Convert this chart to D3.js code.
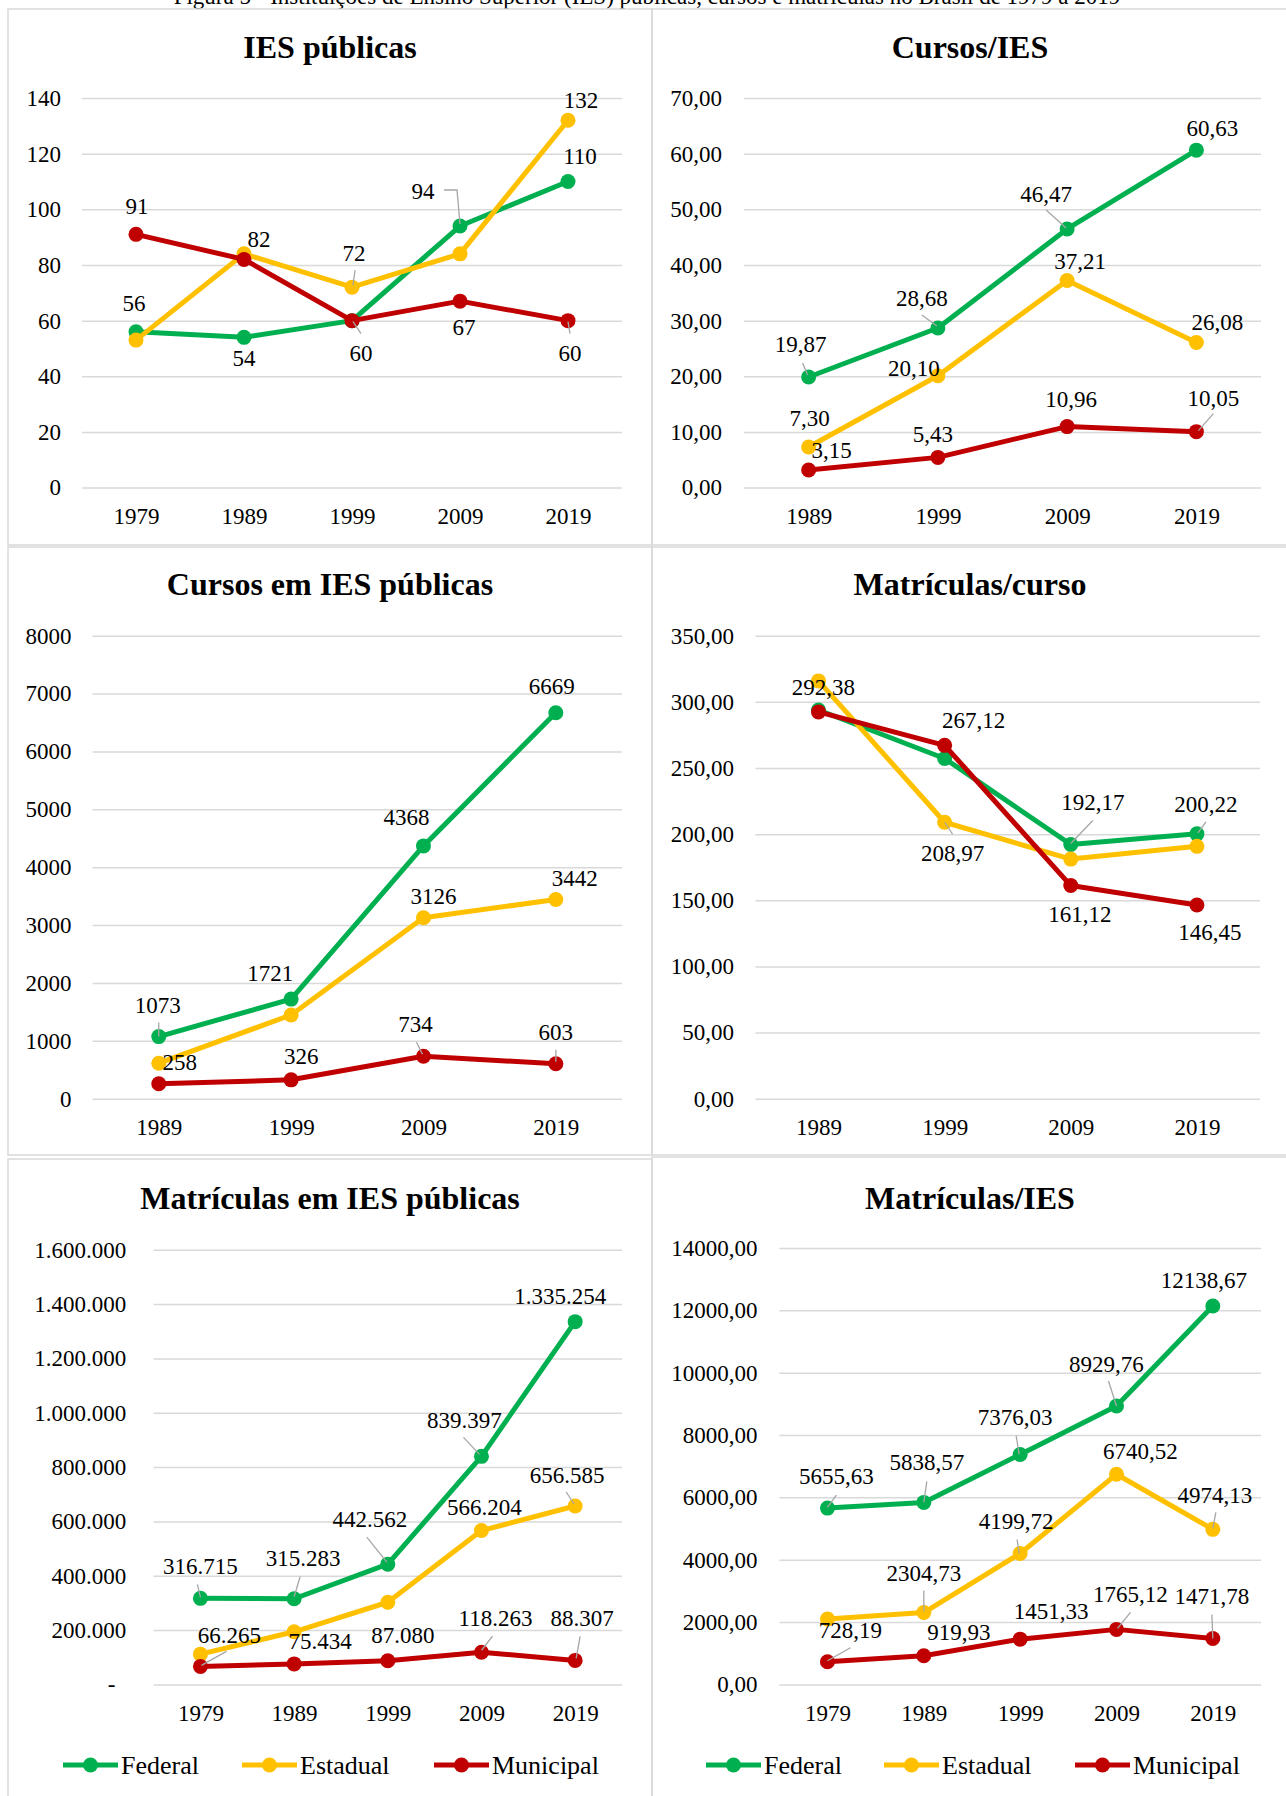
<!DOCTYPE html>
<html><head><meta charset="utf-8">
<script src="https://cdn.jsdelivr.net/npm/d3@7"></script>
<style>
html,body{margin:0;padding:0;background:#fff;}
svg{display:block;font-family:"Liberation Serif","Times New Roman",serif;}
</style></head>
<body>
<svg id="chart" width="1286" height="1796"></svg>
<script>
// ---------- DATA ----------
const seriesNames = ["Federal", "Estadual", "Municipal"];
const yearsA = ["1979", "1989", "1999", "2009", "2019"];
const yearsB = ["1989", "1999", "2009", "2019"];

const iesFederal   = [56, 54, 60, 94, 110];
const iesEstadual  = [53, 84, 72, 84, 132];
const iesMunicipal = [91, 82, 60, 67, 60];

const cursosIesFederal   = [19.87, 28.68, 46.47, 60.63];
const cursosIesEstadual  = [7.30, 20.10, 37.21, 26.08];
const cursosIesMunicipal = [3.15, 5.43, 10.96, 10.05];

const cursosFederal   = [1073, 1721, 4368, 6669];
const cursosEstadual  = [613, 1447, 3126, 3442];
const cursosMunicipal = [258, 326, 734, 603];

const matCursoFederal   = [293.83, 257.16, 192.17, 200.22];
const matCursoEstadual  = [315.82, 208.97, 181.13, 190.76];
const matCursoMunicipal = [292.38, 267.12, 161.12, 146.45];

const matFederal   = [316715, 315283, 442562, 839397, 1335254];
const matEstadual  = [111300, 193597, 302380, 566204, 656585];
const matMunicipal = [66265, 75434, 87080, 118263, 88307];

const matIesFederal   = [5655.63, 5838.57, 7376.03, 8929.76, 12138.67];
const matIesEstadual  = [2100, 2304.73, 4199.72, 6740.52, 4974.13];
const matIesMunicipal = [728.19, 919.93, 1451.33, 1765.12, 1471.78];

const yTicksIes = [0, 20, 40, 60, 80, 100, 120, 140];
const yTicksCursosIes = [0, 10, 20, 30, 40, 50, 60, 70];
const yTicksCursos = [0, 1000, 2000, 3000, 4000, 5000, 6000, 7000, 8000];
const yTicksMatCurso = [0, 50, 100, 150, 200, 250, 300, 350];
const yTicksMat = [0, 200000, 400000, 600000, 800000, 1000000, 1200000, 1400000, 1600000];
const yTicksMatIes = [0, 2000, 4000, 6000, 8000, 10000, 12000, 14000];

const caption = "Figura 5 - Instituições de Ensino Superior (IES) públicas, cursos e matrículas no Brasil de 1979 a 2019";

// ---------- STYLE / LAYOUT ----------
const colors = ["#00B050", "#FFC000", "#C00000"];
const gridColor = "#D9D9D9";
const leaderColor = "#A6A6A6";

const fmtInt = d => String(d);
const fmtComma2 = d => d3.format(".2f")(d).replace(".", ",");
const fmtDots = d => d3.format(",")(d).replace(/,/g, ".");
const fmtMatAxis = d => d === 0 ? "-" : fmtDots(d);

// label placement: [series, point, dx, dy, leader polyline (relative)]
const labelsP1 = [[2,0,1,-20],[0,0,-2,-21],[0,1,0,29],[2,1,15,-12],
  [1,2,2,-26,[3,-17,1,-2]],[2,2,9,40,[1,1,9,13]],
  [0,3,-37,-27,[-16,-36,-3,-36,0,-2]],[2,3,4,34],[1,4,13,-12],[0,4,12,-17],[2,4,2,40,[0,1,2,13]]];
const labelsP2 = [[0,0,-8,-25,[-6,-14,-1,-2]],[0,1,-16,-22,[-16,-13,-1,-2]],[0,2,-21,-27,[-21,-19,-1,-1]],[0,3,16,-14],
  [1,0,1,-21],[1,1,-24,0],[1,2,13,-11],[1,3,21,-12],
  [2,0,23,-12],[2,1,-5,-15],[2,2,4,-20],[2,3,17,-26,[17,-18,2,-1]]];
const labelsP3 = [[0,0,-1,-24,[0,-14,0,0]],[0,1,-21,-18],[0,2,-17,-21],[0,3,-4,-19],
  [1,2,10,-14],[1,3,19,-13],
  [2,0,21,-14],[2,1,10,-16],[2,2,-8,-24,[-7,-14,-1,-2]],[2,3,0,-24,[0,-14,0,-2]]];
const labelsP4 = [[2,0,5,-17],[2,1,29,-17],[1,1,8,39,[0,0,8,12]],[0,2,22,-34,[22,-24,0,-1]],
  [0,3,9,-22,[9,-12,1,-1]],[2,2,9,36],[2,3,13,35]];
const labelsP5 = [[0,0,0,-24,[-3,-14,0,-1]],[0,1,9,-33,[6,-22,0,-2]],[0,2,-18,-37,[-21,-27,-1,-2]],
  [0,3,-17,-28,[-18,-19,-2,-2]],[0,4,-15,-18],
  [1,3,3,-16],[1,4,-8,-23,[-9,-14,-1,-2]],
  [2,0,29,-23,[26,-15,1,-1]],[2,1,26,-15],[2,2,15,-18],[2,3,14,-26,[11,-16,0,-2]],[2,4,7,-34,[5,-24,1,-2]]];
const labelsP6 = [[0,0,9,-24,[9,-13,0,-1]],[0,1,3,-32,[3,-21,0,0]],[0,2,-5,-29,[-4,-19,-1,0]],
  [0,3,-10,-34,[-8,-25,0,0]],[0,4,-9,-18],
  [1,1,0,-32,[0,-22,0,-1]],[1,2,-4,-24,[-3,-14,-1,0]],[1,3,24,-15],[1,4,2,-26,[3,-17,0,-1]],
  [2,0,23,-24,[23,-14,0,-1]],[2,1,35,-16],[2,2,31,-20],[2,3,14,-27,[14,-17,1,-1]],[2,4,-1,-35,[-1,-24,0,0]]];

const panels = [
  {title:"IES públicas", tx:330, ty:58, cats:yearsA, data:[iesFederal,iesEstadual,iesMunicipal],
   ticks:yTicksIes, tfmt:fmtInt, lfmt:fmtInt, labels:labelsP1,
   x0:82, x1:622, yT:98, yB:487.6, tickX:61, xLabY:524},
  {title:"Cursos/IES", tx:970, ty:58, cats:yearsB, data:[cursosIesFederal,cursosIesEstadual,cursosIesMunicipal],
   ticks:yTicksCursosIes, tfmt:fmtComma2, lfmt:fmtComma2, labels:labelsP2,
   x0:744, x1:1261, yT:98, yB:487.6, tickX:722, xLabY:524},
  {title:"Cursos em IES públicas", tx:330, ty:595, cats:yearsB, data:[cursosFederal,cursosEstadual,cursosMunicipal],
   ticks:yTicksCursos, tfmt:fmtInt, lfmt:fmtInt, labels:labelsP3,
   x0:92.6, x1:622, yT:635.7, yB:1098.7, tickX:71.6, xLabY:1135},
  {title:"Matrículas/curso", tx:970, ty:595, cats:yearsB, data:[matCursoFederal,matCursoEstadual,matCursoMunicipal],
   ticks:yTicksMatCurso, tfmt:fmtComma2, lfmt:fmtComma2, labels:labelsP4,
   x0:755.4, x1:1260, yT:635.7, yB:1098.7, tickX:734, xLabY:1135},
  {title:"Matrículas em IES públicas", tx:330, ty:1209, cats:yearsA, data:[matFederal,matEstadual,matMunicipal],
   ticks:yTicksMat, tfmt:fmtMatAxis, lfmt:fmtDots, labels:labelsP5,
   x0:153.6, x1:622, yT:1249.7, yB:1684.4, tickX:126.3, xLabY:1720.6,
   legend:{y:1765, xs:[63,242,434]}},
  {title:"Matrículas/IES", tx:970, ty:1209, cats:yearsA, data:[matIesFederal,matIesEstadual,matIesMunicipal],
   ticks:yTicksMatIes, tfmt:fmtComma2, lfmt:fmtComma2, labels:labelsP6,
   x0:779.3, x1:1261, yT:1248, yB:1684.4, tickX:757.4, xLabY:1720.6,
   legend:{y:1765, xs:[706,884,1075]}}
];

const svg = d3.select("#chart");

// caption (partially cut at top)
svg.append("text").attr("x", 647).attr("y", 4).attr("text-anchor", "middle")
  .attr("font-size", 23).attr("fill", "#000").text(caption);

// panel borders
const borders = [[8,9,644,536],[652,9,660,536],[8,547,644,608],[652,547,660,608],[8,1159,644,660],[652,1157,660,660]];
svg.append("g").selectAll("rect").data(borders).join("rect")
  .attr("x", d => d[0]).attr("y", d => d[1]).attr("width", d => d[2]).attr("height", d => d[3])
  .attr("fill", "none").attr("stroke", gridColor).attr("stroke-width", 1.5);

panels.forEach(p => {
  const g = svg.append("g");
  const x = d3.scalePoint().domain(p.cats).range([p.x0, p.x1]).padding(0.5);
  const yMax = p.ticks[p.ticks.length - 1];
  const y = d3.scaleLinear().domain([0, yMax]).range([p.yB, p.yT]);

  // title
  g.append("text").attr("x", p.tx).attr("y", p.ty).attr("text-anchor", "middle")
    .attr("font-size", 32).attr("font-weight", "bold").attr("fill", "#000").text(p.title);

  // y axis with gridlines
  const ya = g.append("g").attr("transform", `translate(${p.x0},0)`)
    .call(d3.axisLeft(y).tickValues(p.ticks).tickFormat(p.tfmt)
      .tickSizeInner(-(p.x1 - p.x0)).tickSizeOuter(0).tickPadding(p.x0 - p.tickX));
  ya.select(".domain").remove();
  ya.selectAll(".tick line").attr("stroke", gridColor).attr("stroke-width", 1.5);
  ya.selectAll(".tick text").attr("font-size", 23).attr("fill", "#000")
    .attr("font-family", "Liberation Serif, Times New Roman, serif")
    .attr("dx", d => (d === 0 && p.tfmt === fmtMatAxis) ? -11 : 0);

  // x axis
  const xa = g.append("g").attr("transform", `translate(0,${p.yB})`)
    .call(d3.axisBottom(x).tickSize(0));
  xa.select(".domain").remove();
  xa.selectAll(".tick text").attr("font-size", 23).attr("fill", "#000")
    .attr("font-family", "Liberation Serif, Times New Roman, serif")
    .attr("y", p.xLabY - p.yB).attr("dy", null);

  // lines & markers
  const line = d3.line().x((d, i) => x(p.cats[i])).y(d => y(d));
  p.data.forEach((vals, s) => {
    g.append("path").datum(vals).attr("d", line).attr("fill", "none")
      .attr("stroke", colors[s]).attr("stroke-width", 5).attr("stroke-linejoin", "round");
    g.append("g").selectAll("circle").data(vals).join("circle")
      .attr("cx", (d, i) => x(p.cats[i])).attr("cy", d => y(d)).attr("r", 7.5)
      .attr("fill", colors[s]);
  });

  // data labels
  p.labels.forEach(l => {
    const [s, i, dx, dy, leader] = l;
    const v = p.data[s][i];
    const px = x(p.cats[i]), py = y(v);
    if (leader) {
      const pts = [];
      for (let k = 0; k < leader.length; k += 2) pts.push([px + leader[k], py + leader[k + 1]]);
      g.append("path").attr("d", d3.line()(pts)).attr("fill", "none")
        .attr("stroke", leaderColor).attr("stroke-width", 1.3);
    }
    g.append("text").attr("x", px + dx).attr("y", py + dy).attr("text-anchor", "middle")
      .attr("font-size", 23).attr("fill", "#000").text(p.lfmt(v));
  });

  // legend
  if (p.legend) {
    const lg = g.append("g");
    seriesNames.forEach((name, s) => {
      const lx = p.legend.xs[s], ly = p.legend.y;
      lg.append("line").attr("x1", lx).attr("x2", lx + 55).attr("y1", ly).attr("y2", ly)
        .attr("stroke", colors[s]).attr("stroke-width", 5);
      lg.append("circle").attr("cx", lx + 27.5).attr("cy", ly).attr("r", 7.5).attr("fill", colors[s]);
      lg.append("text").attr("x", lx + 58).attr("y", ly + 9).attr("font-size", 26)
        .attr("fill", "#000").text(name);
    });
  }
});
</script>
</body></html>
